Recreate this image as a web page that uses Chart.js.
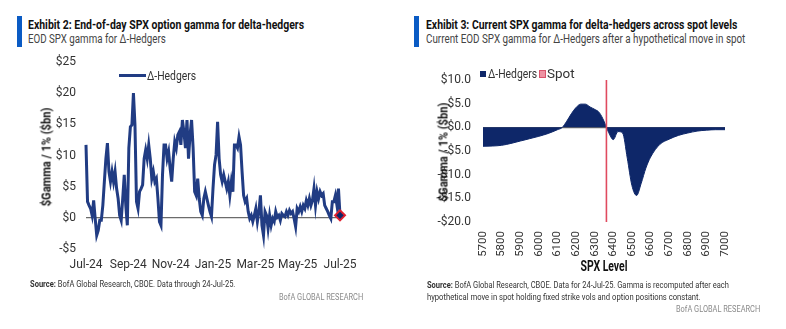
<!DOCTYPE html>
<html>
<head>
<meta charset="utf-8">
<script src="https://cdn.jsdelivr.net/npm/chart.js@4.4.1/dist/chart.umd.min.js"></script>
<style>
  body { margin: 0; width: 786px; height: 329px; background: #fff; font-family: Roboto, sans-serif; color: #222; overflow: hidden; position: relative; }
  .abs { position: absolute; white-space: nowrap; line-height: 1; }
  .bar { position: absolute; background: #0A5BC4; width: 5px; height: 31px; top: 16px; }
  .title { font-weight: 700; font-size: 12.5px; color: #111; transform-origin: left center; }
  .sub { font-size: 12px; color: #444; transform-origin: left center; }
  .src { font-size: 9px; color: #333; transform-origin: left center; }
  .brand { font-size: 9px; color: #8a8a8a; transform-origin: left center; }
  .ytitle { font-weight: 700; font-size: 13px; color: #111; transform-origin: center center; }
  .leg { font-size: 12.5px; color: #333; transform-origin: left center; }
  canvas { position: absolute; }
</style>
</head>
<body>
<div class="bar" style="left:17px"></div>
<div class="abs title" style="left:28px;top:18.8px" data-w="276">Exhibit 2: End-of-day SPX option gamma for delta-hedgers</div>
<div class="abs sub" style="left:28px;top:32.6px" data-w="138">EOD SPX gamma for Δ-Hedgers</div>

<div class="bar" style="left:414px"></div>
<div class="abs title" style="left:426px;top:18.8px" data-w="311">Exhibit 3: Current SPX gamma for delta-hedgers across spot levels</div>
<div class="abs sub" style="left:426px;top:32.6px" data-w="319">Current EOD SPX gamma for Δ-Hedgers after a hypothetical move in spot</div>

<canvas id="eod" width="375" height="230" style="left:0;top:50px"></canvas>
<canvas id="spot" width="393" height="220" style="left:393px;top:50px"></canvas>

<!-- left legend + axis title -->
<div style="position:absolute;left:119px;top:74px;width:27px;height:3px;background:#213C83"></div>
<div class="abs leg" style="left:147px;top:70px" data-w="49">Δ-Hedgers</div>
<div class="abs ytitle" style="left:46px;top:157px" data-w="99" data-t="translate(-50%,-50%) rotate(-90deg)">$Gamma / 1% ($bn)</div>

<!-- right legend + axis title -->
<div style="position:absolute;left:480px;top:71px;width:6px;height:6px;background:#0E2769"></div>
<div class="abs leg" style="left:488px;top:68px" data-w="49">Δ-Hedgers</div>
<div style="position:absolute;left:539px;top:70px;width:5px;height:6px;background:#EE93A3;border:1px solid #D9546C"></div>
<div class="abs leg" style="left:547px;top:68px" data-w="28">Spot</div>
<div class="abs ytitle" style="left:443px;top:152px" data-w="99" data-t="translate(-50%,-50%) rotate(-90deg)">$Gamma / 1% ($bn)</div>
<div class="abs ytitle" style="left:604px;top:266px;font-size:14px" data-w="47" data-t="translate(-50%,-50%)">SPX Level</div>

<!-- sources -->
<div class="abs src" style="left:30px;top:279.5px" data-w="205"><b>Source:</b> BofA Global Research, CBOE. Data through 24-Jul-25.</div>
<div class="abs brand" style="left:279px;top:292.5px" data-w="84">BofA GLOBAL RESEARCH</div>
<div class="abs src" style="left:427px;top:280.5px" data-w="302"><b>Source:</b> BofA Global Research, CBOE. Data for 24-Jul-25. Gamma is recomputed after each</div>
<div class="abs src" style="left:427px;top:292.5px" data-w="274">hypothetical move in spot holding fixed strike vols and option positions constant.</div>
<div class="abs brand" style="left:676px;top:304.5px" data-w="84">BofA GLOBAL RESEARCH</div>

<script>
// ── Exhibit 2: daily EOD gamma, Jul-24 .. 24-Jul-25 ($bn per 1%) ──
const dateLabels = ['Jul-24', 'Sep-24', 'Nov-24', 'Jan-25', 'Mar-25', 'May-25', 'Jul-25'];
const hedgerGamma = [
  11.7, 2.6, 2.0, 1.5, 0.4, 2.8, -0.1, -2.8, -2.0, -0.4, -0.4, 2.0, 5.8, 9.5, 12.0, 7.4,
  5.8, 7.4, 5.8, 7.4, 4.7, 3.1, 0.4, -0.4, 3.1, 6.9, 2.0, -1.2, 11.2, 14.6, 14.9, 20.0,
  14.9, 2.6, 1.5, 4.2, 4.7, 5.3, 9.5, 10.9, 9.5, 11.7, 9.5, 6.3, 7.4, 5.8, 6.3, 3.1,
  -0.6, -1.2, 6.9, 11.7, 11.7, 9.5, 10.6, 7.9, 5.8, 9.5, 12.2, 11.2, 13.3, 13.8, 11.7, 15.7,
  13.8, 11.2, 15.7, 9.5, 13.3, 15.7, 11.2, 4.2, 3.6, 6.3, 3.1, 1.0, 0.4, 3.1, 4.2, 3.1,
  2.0, 1.0, 0.2, 4.7, 8.5, 10.1, 15.4, 9.5, 6.9, 5.8, 6.9, 5.8, 4.7, 5.8, 3.6, 5.8,
  4.2, 11.7, 11.7, 11.2, 13.0, 11.7, 7.4, 3.6, 2.6, 3.1, 1.0, -0.1, 0.4, -0.6, 0.4, 1.5,
  -0.6, 1.0, 3.6, -1.2, -2.8, 1.0, 0.4, -1.7, 0.4, -1.2, -0.1, -0.6, 1.0, 0.1, 0.4, -0.4,
  0.7, 0.4, 0.2, 1.0, 0.4, 1.2, 0.7, 1.0, -0.1, -1.4, 1.5, 1.0, 1.8, 1.0, 2.0, 1.5,
  2.8, 2.0, 3.1, 2.0, 2.8, 4.7, 2.0, 4.2, 3.1, 4.2, 3.6, 3.9, 2.0, 1.5, 1.0, 0.4,
  -0.1, 2.6, 2.6, 3.6, 2.0, 4.7, 0.4
];
const eodTicks = [-5, 0, 5, 10, 15, 20, 25];

// ── Exhibit 3: gamma after hypothetical spot move ──
const spxLevels = [5700, 5750, 5800, 5850, 5900, 5950, 6000, 6050, 6100, 6125, 6150, 6175, 6200, 6225, 6250,
  6275, 6300, 6325, 6350, 6363, 6375, 6400, 6425, 6450, 6475, 6500, 6525, 6550, 6575, 6600,
  6650, 6700, 6750, 6800, 6850, 6900, 6950, 7000];
const levelGamma = [-4.0, -3.95, -3.8, -3.4, -2.9, -2.4, -1.9, -1.3, -0.5, -0.05, 1.3, 2.9, 4.2, 4.9, 4.9,
  4.3, 3.8, 3.1, 1.3, 0.0, -1.1, -2.6, -0.9, -1.2, -6.5, -12.3, -14.4, -11.8, -8.6, -6.3,
  -3.6, -2.5, -1.7, -1.2, -0.8, -0.6, -0.5, -0.5];
const spotLevel = 6363;
const spotRange = [-20, 10];

const NAVY = '#213C83';
const FILL = '#0E2769';
const TICK = { family: 'Roboto', size: 12 };

const money = (v, d) => (v < 0 ? '-$' : '$') + Math.abs(v).toFixed(d);
const zeroGrid = ctx => ctx.tick && ctx.tick.value === 0 ? '#6b6b6b' : 'rgba(0,0,0,0)';
// keep the plot box where the original has it (no label overhang padding)
const noPad = axis => { axis.paddingLeft = 0; axis.paddingRight = 0; axis.paddingTop = 0; axis.paddingBottom = 0; };

// left: line over trading days
const last = hedgerGamma.length - 1;
new Chart(document.getElementById('eod'), {
  type: 'line',
  data: {
    datasets: [{
      data: hedgerGamma.map((v, i) => ({ x: i, y: v })),
      borderColor: NAVY,
      borderWidth: 3,
      tension: 0,
      clip: false,
      pointRadius: ctx => ctx.dataIndex === last ? 5 : 0,
      pointStyle: 'rectRot',
      pointBackgroundColor: FILL,
      pointBorderColor: '#E0202F',
      pointBorderWidth: 2,
    }]
  },
  options: {
    responsive: false,
    animation: false,
    layout: { padding: { left: 0, right: 35, top: 12, bottom: 0 } },
    plugins: { legend: { display: false }, tooltip: { enabled: false } },
    scales: {
      x: {
        type: 'linear', min: 0, max: last,
        afterBuildTicks: axis => { axis.ticks = dateLabels.map((l, i) => ({ value: i * last / (dateLabels.length - 1) })); },
        afterFit: axis => { axis.height = 31; noPad(axis); },
        ticks: { autoSkip: false, maxRotation: 0, padding: 9, color: '#333', font: TICK, callback: (v, i) => dateLabels[i] },
        grid: { display: false, drawTicks: false },
        border: { display: false },
      },
      y: {
        min: -5, max: 25,
        afterBuildTicks: axis => { axis.ticks = eodTicks.map(v => ({ value: v })); },
        afterFit: axis => { axis.width = 86; noPad(axis); },
        ticks: { padding: 10, color: '#333', font: TICK, callback: v => money(v, 0) },
        grid: { color: zeroGrid, lineWidth: 1.3, drawTicks: false },
        border: { display: false },
      }
    }
  }
});

// right: filled area by SPX level + spot marker
new Chart(document.getElementById('spot'), {
  type: 'line',
  data: {
    datasets: [{
      data: spxLevels.map((x, i) => ({ x, y: levelGamma[i] })),
      borderColor: FILL,
      backgroundColor: FILL,
      borderWidth: 1,
      fill: 'origin',
      cubicInterpolationMode: 'monotone',
      pointRadius: 0,
      order: 2,
    }, {
      data: spotRange.map(y => ({ x: spotLevel, y })),
      borderColor: '#E04A5F',
      borderWidth: 1.6,
      pointRadius: 0,
      fill: false,
      order: 1,
    }]
  },
  options: {
    responsive: false,
    animation: false,
    layout: { padding: { left: 0, right: 61, top: 30, bottom: 0 } },
    plugins: { legend: { display: false }, tooltip: { enabled: false } },
    scales: {
      x: {
        type: 'linear', min: 5700, max: 7000,
        ticks: { stepSize: 100, autoSkip: false, minRotation: 90, maxRotation: 90, padding: 9, color: '#333', font: { family: 'Roboto', size: 11.5 }, callback: v => String(v) },
        afterFit: axis => { axis.height = 48; noPad(axis); },
        grid: { display: false, drawTicks: false },
        border: { display: false },
      },
      y: {
        min: -20, max: 10,
        ticks: { stepSize: 5, padding: 12, color: '#333', font: TICK, callback: v => money(v, 1) },
        afterFit: axis => { axis.width = 90; noPad(axis); },
        grid: { color: zeroGrid, lineWidth: 1.3, drawTicks: false },
        border: { display: false },
      }
    }
  }
});

// squeeze html text to the widths in the original
document.querySelectorAll('[data-w]').forEach(el => {
  const s = (+el.dataset.w) / el.scrollWidth;
  el.style.transform = (el.dataset.t || '') + ` scaleX(${s})`;
});
</script>
</body>
</html>
